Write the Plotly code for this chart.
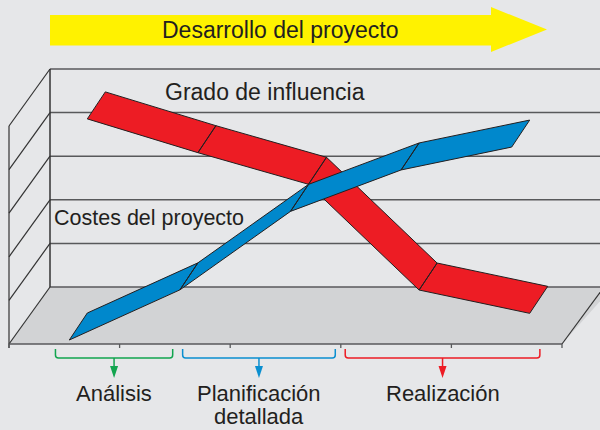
import plotly.graph_objects as go

# ---------------- data ----------------
stages_x = [0.5, 1.5, 2.5, 3.5, 4.5]          # positions along project timeline (tick units)
influence = [89.5, 74, 59.5, 11, 0.3]         # Grado de influencia
costs = [0, 23, 59, 78, 88.5]                 # Costes del proyecto
grid_values = [0, 20, 40, 60, 80, 100]
tick_positions = [0, 1, 2, 3, 4, 5]
phases = ["Análisis", "Planificación<br>detallada", "Realización"]
phase_spans = [(0.42, 1.48), (1.57, 2.95), (3.04, 4.8)]
phase_colors = ["#12a54f", "#0a8fd0", "#ed1c24"]

title_text = "Desarrollo del proyecto"
label_influence = "Grado de influencia"
label_costs = "Costes del proyecto"

# ---------------- projection (oblique pseudo-3D) ----------------
X0, DX = 50.0, 110.6      # back wall origin and spacing per tick
Y0, VY = 287.0, 2.18      # floor line at back, pixels per value unit
DEPTH = (-41.0, 57.0)     # full depth of floor
RED_OFF = ((0, 0), (-18, 27))
BLUE_OFF = ((-18, 26), (-36, 53))
FRONT_X0 = X0 + DEPTH[0]
FRONT_Y = Y0 + DEPTH[1]


def P(x, v, off=(0, 0)):
    return X0 + x * DX + off[0], Y0 - v * VY + off[1]


BG = "#e6e7e9"
FLOOR = "#d2d3d5"
INK = "#231f20"
FONT = "Liberation Sans, Arial, sans-serif"

fig = go.Figure()
shapes = []

# floor
bl = P(0, 0)
br = P(5.05, 0)
fl = (bl[0] + DEPTH[0], bl[1] + DEPTH[1])
fr = (P(5, 0)[0] + DEPTH[0], FRONT_Y)
shapes.append(dict(type="path", layer="below",
                   path=f"M{bl[0]},{bl[1]} L{br[0]+4},{br[1]} L{fr[0]},{fr[1]} L{fl[0]},{fl[1]} Z",
                   fillcolor=FLOOR, line=dict(width=0)))

# back wall gridlines
for g in grid_values:
    a = P(0, g)
    b = P(5.3, g)
    shapes.append(dict(type="line", layer="below", x0=a[0], y0=a[1], x1=b[0], y1=b[1],
                       line=dict(color="#58595b", width=1.5)))
# left wall diagonals
for g in grid_values:
    a = P(0, g)
    shapes.append(dict(type="line", layer="below", x0=a[0], y0=a[1],
                       x1=a[0] + DEPTH[0], y1=a[1] + DEPTH[1],
                       line=dict(color="#333333", width=1.2)))
# back-left vertical edge
a, b = P(0, 0), P(0, 100)
shapes.append(dict(type="line", layer="below", x0=a[0], y0=a[1], x1=b[0], y1=b[1],
                   line=dict(color="#333333", width=1.5)))
# front-left vertical edge
shapes.append(dict(type="line", layer="below", x0=a[0] + DEPTH[0], y0=FRONT_Y + 4,
                   x1=b[0] + DEPTH[0], y1=b[1] + DEPTH[1],
                   line=dict(color="#333333", width=1.2)))
# floor right diagonal
shapes.append(dict(type="line", layer="below", x0=P(5, 0)[0] + 1, y0=Y0,
                   x1=fr[0], y1=fr[1], line=dict(color="#333333", width=1.2)))
# front axis line + ticks
shapes.append(dict(type="line", layer="below", x0=fl[0], y0=FRONT_Y, x1=fr[0], y1=FRONT_Y,
                   line=dict(color="#58595b", width=1.5)))
for t in tick_positions:
    x = FRONT_X0 + t * DX
    shapes.append(dict(type="line", layer="below", x0=x, y0=FRONT_Y, x1=x, y1=FRONT_Y + 4,
                       line=dict(color="#58595b", width=1.3)))


# ribbons
def ribbon(xs, vs, offs, color):
    px, py = [], []
    back = [P(x, v, offs[0]) for x, v in zip(xs, vs)]
    front = [P(x, v, offs[1]) for x, v in zip(xs, vs)]
    for i in range(len(xs) - 1):
        pts = [back[i], back[i + 1], front[i + 1], front[i], back[i]]
        px += [p[0] for p in pts] + [None]
        py += [p[1] for p in pts] + [None]
    fig.add_trace(go.Scatter(x=px, y=py, mode="lines", fill="toself", fillcolor=color,
                             line=dict(color=INK, width=1), hoverinfo="skip",
                             showlegend=False))


ribbon(stages_x, influence, RED_OFF, "#ed1c24")
ribbon(stages_x, costs, BLUE_OFF, "#0088cc")

# title arrow
shapes.append(dict(type="path", layer="above",
                   path="M50,15 L491,15 L491,7 L547,29.5 L491,52 L491,45.5 L50,45.5 Z",
                   fillcolor="#fff200", line=dict(width=0)))

# phase brackets
for (s0, s1), col in zip(phase_spans, phase_colors):
    xa = FRONT_X0 + s0 * DX
    xb = FRONT_X0 + s1 * DX
    xm = (xa + xb) / 2
    shapes.append(dict(type="path", layer="above",
                       path=f"M{xa},349 L{xa},355 Q{xa},358 {xa+3},358 L{xb-3},358 Q{xb},358 {xb},355 L{xb},349",
                       line=dict(color=col, width=1.5)))
    shapes.append(dict(type="line", layer="above", x0=xm, y0=358, x1=xm, y1=368,
                       line=dict(color=col, width=1.5)))
    shapes.append(dict(type="path", layer="above",
                       path=f"M{xm-4},366 L{xm+4},366 L{xm},378 Z",
                       fillcolor=col, line=dict(width=0)))

annotations = []
annotations.append(dict(x=280, y=30, text=title_text, showarrow=False,
                        font=dict(family=FONT, size=23, color=INK)))
annotations.append(dict(x=265, y=92, text=label_influence, showarrow=False,
                        font=dict(family=FONT, size=23, color=INK)))
annotations.append(dict(x=148.5, y=218, text=label_costs, showarrow=False,
                        font=dict(family=FONT, size=21.5, color=INK)))
for (s0, s1), lab in zip(phase_spans, phases):
    xm = FRONT_X0 + (s0 + s1) / 2 * DX
    lines = lab.split("<br>")
    for k, ln in enumerate(lines):
        if k == 0:
            annotations.append(dict(x=xm, y=393, text=ln, showarrow=False, borderpad=0,
                                    font=dict(family=FONT, size=22, color=INK)))
        else:
            annotations.append(dict(x=xm, y=430, yanchor="bottom", text=ln, showarrow=False,
                                    borderpad=0,
                                    font=dict(family=FONT, size=22, color=INK)))

fig.update_layout(
    width=600, height=430,
    margin=dict(l=0, r=0, t=0, b=0),
    paper_bgcolor=BG, plot_bgcolor=BG,
    xaxis=dict(range=[0, 600], visible=False, fixedrange=True),
    yaxis=dict(range=[430, 0], visible=False, fixedrange=True),
    shapes=shapes, annotations=annotations,
    showlegend=False,
)
fig.write_html("out.html", config=dict(displayModeBar=False),
               post_script="document.body.style.margin='0';document.body.style.overflow='hidden';")
